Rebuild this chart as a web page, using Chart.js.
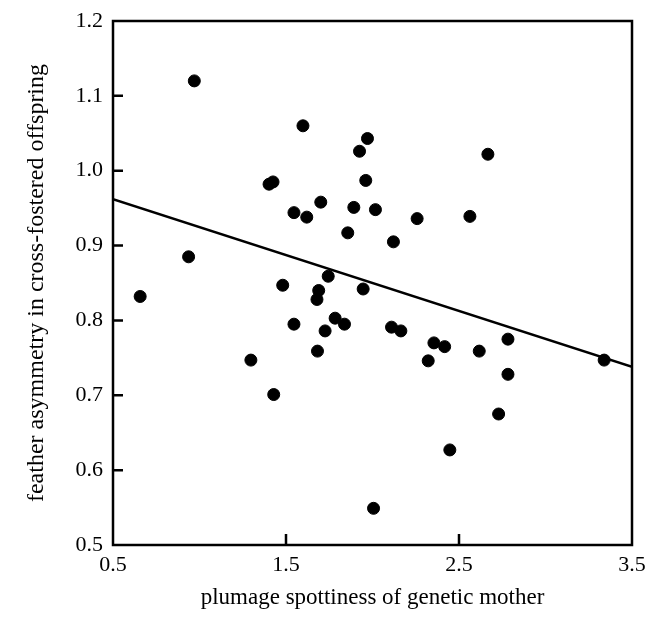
<!DOCTYPE html>
<html>
<head>
<meta charset="utf-8">
<script src="https://cdn.jsdelivr.net/npm/chart.js@4.4.0/dist/chart.umd.min.js"></script>
<style>
  body { margin: 0; background: #fff; }
  #wrap { width: 646px; height: 626px; }
</style>
</head>
<body>
<div id="wrap"><canvas id="c" width="646" height="626"></canvas></div>
<script>
// spottiness of genetic mother vs feather asymmetry of cross-fostered young
const spotX = [0.657, 0.937, 0.970, 1.297, 1.402, 1.425, 1.429, 1.481, 1.546, 1.546,
  1.598, 1.620, 1.679, 1.682, 1.689, 1.701, 1.726, 1.744, 1.784, 1.838,
  1.857, 1.892, 1.925, 1.946, 1.961, 1.971, 2.006, 2.017, 2.110, 2.121,
  2.164, 2.258, 2.322, 2.355, 2.417, 2.447, 2.563, 2.617, 2.667, 2.729,
  2.783, 2.783, 3.339];
const asymY = [0.832, 0.885, 1.120, 0.747, 0.982, 0.985, 0.701, 0.847, 0.944, 0.795,
  1.060, 0.938, 0.828, 0.759, 0.840, 0.958, 0.786, 0.859, 0.803, 0.795,
  0.917, 0.951, 1.026, 0.842, 0.987, 1.043, 0.549, 0.948, 0.791, 0.905,
  0.786, 0.936, 0.746, 0.770, 0.765, 0.627, 0.939, 0.759, 1.022, 0.675,
  0.775, 0.728, 0.747];

// fitted line end points
const fitX = [0.5, 3.5];
const fitY = [0.962, 0.738];

const xTicks = [0.5, 1.5, 2.5, 3.5];
const yTicks = [0.5, 0.6, 0.7, 0.8, 0.9, 1.0, 1.1, 1.2];

const serif = 'Liberation Serif';

// frame box + inward tick marks
const frame = {
  id: 'frame',
  afterDatasetsDraw(chart){
    const {ctx, chartArea: a, scales: {x, y}} = chart;
    ctx.save();
    ctx.strokeStyle = '#000';
    ctx.lineWidth = 2.5;
    ctx.strokeRect(a.left, a.top, a.right - a.left, a.bottom - a.top);
    ctx.beginPath();
    xTicks.slice(1, -1).forEach(v=>{
      const px = x.getPixelForValue(v);
      ctx.moveTo(px, a.bottom); ctx.lineTo(px, a.bottom - 11);
    });
    yTicks.slice(1, -1).forEach(v=>{
      const py = y.getPixelForValue(v);
      ctx.moveTo(a.left, py); ctx.lineTo(a.left + 10, py);
    });
    ctx.stroke();
    ctx.restore();
  }
};

new Chart(document.getElementById('c'), {
  type: 'scatter',
  data: {
    datasets: [
      {
        data: spotX.map((v, i)=>({x: v, y: asymY[i]})),
        backgroundColor: '#000', borderColor: '#000',
        pointRadius: 6, pointHoverRadius: 6
      },
      {
        type: 'line',
        data: fitX.map((v, i)=>({x: v, y: fitY[i]})),
        borderColor: '#000', borderWidth: 2.5,
        pointRadius: 0, fill: false
      }
    ]
  },
  options: {
    responsive: false,
    animation: false,
    layout: { padding: { top: 21, right: 14, left: 0, bottom: 0 } },
    plugins: { legend: { display: false }, tooltip: { enabled: false } },
    scales: {
      x: {
        type: 'linear', min: 0.5, max: 3.5,
        afterBuildTicks: s=>{ s.ticks = xTicks.map(v=>({value: v})); },
        afterFit: s=>{ s.height = 81; s.paddingLeft = 0; s.paddingRight = 0; },
        grid: { display: false, drawTicks: false },
        border: { display: false },
        ticks: { color: '#000', font: { family: serif, size: 22 }, padding: 7,
          maxRotation: 0, callback: v=>v.toFixed(1) },
        title: { display: true, text: 'plumage spottiness of genetic mother',
          color: '#000', font: { family: serif, size: 23 }, padding: { top: 0, bottom: 14 } }
      },
      y: {
        type: 'linear', min: 0.5, max: 1.2,
        afterBuildTicks: s=>{ s.ticks = yTicks.map(v=>({value: v})); },
        afterFit: s=>{ s.width = 113; s.paddingTop = 0; s.paddingBottom = 0; },
        grid: { display: false, drawTicks: false },
        border: { display: false },
        ticks: { color: '#000', font: { family: serif, size: 22 }, padding: 10,
          callback: v=>v.toFixed(1) },
        title: { display: true, text: 'feather asymmetry in cross-fostered offspring',
          color: '#000', font: { family: serif, size: 24 }, padding: { top: 22, bottom: 0 } }
      }
    }
  },
  plugins: [frame]
});
</script>
</body>
</html>
